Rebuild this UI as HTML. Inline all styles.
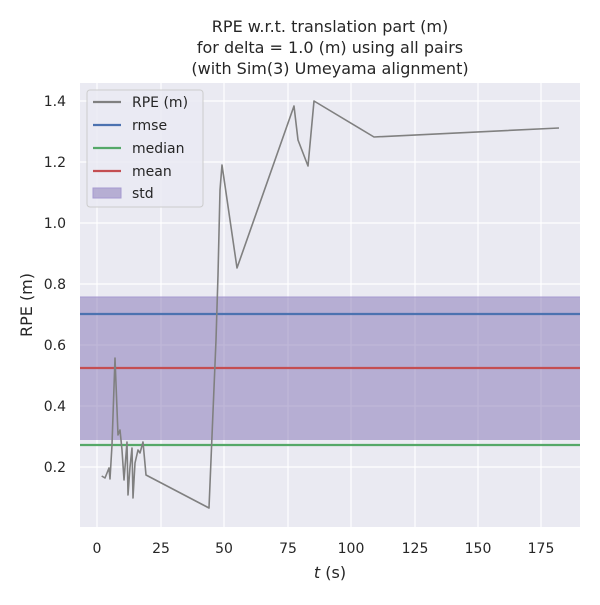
<!DOCTYPE html><html><head><style>body{margin:0;background:#fff}svg text{font-family:"DejaVu Sans","Liberation Sans",sans-serif;fill:#262626}</style></head><body>
<svg width="600" height="600" xmlns="http://www.w3.org/2000/svg">
<rect width="600" height="600" fill="#fff"/>
<rect x="80" y="83" width="500" height="444" fill="#eaeaf2"/>
<g stroke="#fff" stroke-width="1.2">
<line x1="97" y1="83" x2="97" y2="527"/><line x1="161" y1="83" x2="161" y2="527"/><line x1="224" y1="83" x2="224" y2="527"/><line x1="288" y1="83" x2="288" y2="527"/><line x1="351" y1="83" x2="351" y2="527"/><line x1="415" y1="83" x2="415" y2="527"/><line x1="478" y1="83" x2="478" y2="527"/><line x1="541" y1="83" x2="541" y2="527"/>
<line x1="80" y1="467" x2="580" y2="467"/><line x1="80" y1="406" x2="580" y2="406"/><line x1="80" y1="345" x2="580" y2="345"/><line x1="80" y1="284" x2="580" y2="284"/><line x1="80" y1="223" x2="580" y2="223"/><line x1="80" y1="162" x2="580" y2="162"/><line x1="80" y1="101" x2="580" y2="101"/>
</g>
<rect x="80" y="297" width="500" height="143" fill="#8172b3" fill-opacity="0.5"/>
<line x1="80" y1="297" x2="580" y2="297" stroke="#a79ad0" stroke-width="1"/>
<line x1="80" y1="314" x2="580" y2="314" stroke="#4c72b0" stroke-width="2.2"/>
<line x1="80" y1="368" x2="580" y2="368" stroke="#c44e52" stroke-width="2.2"/>
<line x1="80" y1="445" x2="580" y2="445" stroke="#55a868" stroke-width="2.2"/>
<polyline fill="none" stroke="#808080" stroke-width="1.6" stroke-linejoin="round" points="101.7,476 105,478 109,468 110,479 112,445 115,358 118,435 120,430 122,450 124,480 127,442 128,495 130,467 132,448 133,498 135,463 138,450 140,453 143,442 146,475 209,508 216,340 218,275 220,190 222,165 237,268 294,106 298,140 308,166 314,101 374,137 559,128"/>
<g font-size="14">
<text x="97" y="553" text-anchor="middle">0</text><text x="161" y="553" text-anchor="middle">25</text><text x="224" y="553" text-anchor="middle">50</text><text x="288" y="553" text-anchor="middle">75</text><text x="351" y="553" text-anchor="middle">100</text><text x="415" y="553" text-anchor="middle">125</text><text x="478" y="553" text-anchor="middle">150</text><text x="541" y="553" text-anchor="middle">175</text>
<g text-anchor="end"><text x="66" y="472">0.2</text><text x="66" y="411">0.4</text><text x="66" y="350">0.6</text><text x="66" y="289">0.8</text><text x="66" y="228">1.0</text><text x="66" y="167">1.2</text><text x="66" y="106">1.4</text></g>
</g>
<text x="330" y="578" font-size="16" text-anchor="middle"><tspan font-style="italic">t</tspan> (s)</text>
<text transform="translate(32,305) rotate(-90)" font-size="16" text-anchor="middle">RPE (m)</text>
<g font-size="16" text-anchor="middle"><text x="330" y="32">RPE w.r.t. translation part (m)</text><text x="330" y="53">for delta = 1.0 (m) using all pairs</text><text x="330" y="74">(with Sim(3) Umeyama alignment)</text></g>
<rect x="87" y="90" width="116" height="117" rx="3" fill="#eaeaf2" fill-opacity="0.8" stroke="#ccc"/>
<g stroke-width="2.2"><line x1="93" y1="102" x2="121" y2="102" stroke="#808080"/><line x1="93" y1="125" x2="121" y2="125" stroke="#4c72b0"/><line x1="93" y1="148" x2="121" y2="148" stroke="#55a868"/><line x1="93" y1="171" x2="121" y2="171" stroke="#c44e52"/></g>
<rect x="93" y="188" width="28" height="10" fill="#8172b3" fill-opacity="0.5" stroke="#a79ad0"/>
<g font-size="14"><text x="132" y="107">RPE (m)</text><text x="132" y="130">rmse</text><text x="132" y="153">median</text><text x="132" y="176">mean</text><text x="132" y="198">std</text></g>
</svg></body></html>
